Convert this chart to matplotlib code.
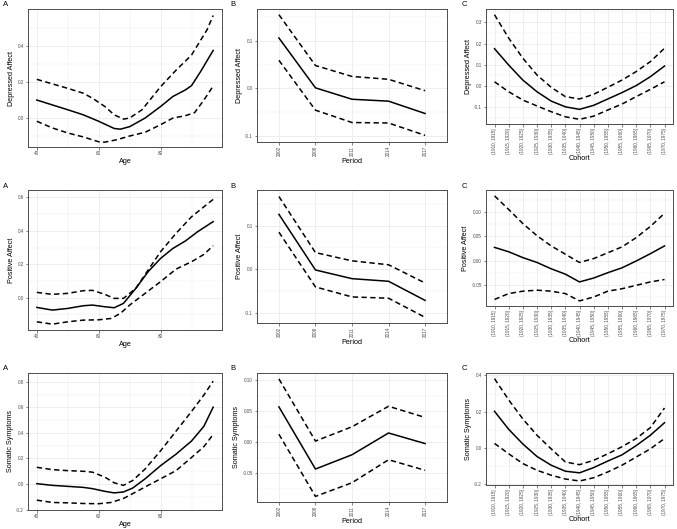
import matplotlib

matplotlib.use('Agg')
import matplotlib.pyplot as plt
from matplotlib.ticker import FixedLocator, FormatStrFormatter

plt.rcParams['font.family'] = ['Liberation Sans', 'DejaVu Sans']

# ---------------- data ----------------
periods = ['2002', '2008', '2011', '2014', '2017']
cohorts = ['(1910, 1915]', '(1915, 1920]', '(1920, 1925]', '(1925, 1930]',
           '(1930, 1935]', '(1935, 1940]', '(1940, 1945]', '(1945, 1950]',
           '(1950, 1955]', '(1955, 1960]', '(1960, 1965]', '(1965, 1970]',
           '(1970, 1975]']

# Depressed affect - age
da_age_est = [40, 50, 55, 60, 65, 67, 70, 75, 80, 84, 88, 90, 93, 97]
da_est = [0.10, 0.046, 0.018, -0.018, -0.058, -0.062, -0.048, 0.0, 0.064, 0.12, 0.156, 0.18, 0.26, 0.376]
da_age_hi = [40, 50, 55, 58, 62, 65, 68, 70, 74, 80, 85, 90, 95, 97]
da_hi = [0.215, 0.165, 0.138, 0.11, 0.064, 0.018, -0.006, 0.0, 0.046, 0.174, 0.266, 0.35, 0.49, 0.57]
da_age_lo = [40, 45, 50, 55, 60, 62, 66, 70, 75, 80, 84, 88, 91, 94, 97]
da_lo = [-0.018, -0.055, -0.083, -0.105, -0.132, -0.134, -0.12, -0.10, -0.079, -0.037, 0.0, 0.013, 0.03, 0.10, 0.178]

# Depressed affect - period
da_per_est = [0.106, 0.001, -0.023, -0.027, -0.053]
da_per_hi = [0.155, 0.048, 0.025, 0.019, -0.005]
da_per_lo = [0.059, -0.046, -0.072, -0.073, -0.099]

# Depressed affect - cohort
da_coh_est = [0.176, 0.099, 0.028, -0.027, -0.071, -0.098, -0.110, -0.091, -0.061, -0.031, 0.002, 0.044, 0.094]
da_coh_hi = [0.336, 0.226, 0.131, 0.052, -0.006, -0.05, -0.061, -0.039, -0.006, 0.028, 0.068, 0.115, 0.178]
da_coh_lo = [0.02, -0.027, -0.066, -0.094, -0.121, -0.145, -0.157, -0.142, -0.113, -0.085, -0.05, -0.016, 0.02]

# Positive affect - age
pa_age_est = [40, 45, 50, 55, 58, 62, 65, 68, 72, 76, 80, 84, 88, 92, 97]
pa_est = [-0.058, -0.074, -0.064, -0.048, -0.044, -0.054, -0.06, -0.034, 0.056, 0.156, 0.235, 0.295, 0.339, 0.395, 0.455]
pa_age_hi = [40, 45, 50, 55, 58, 62, 65, 68, 72, 76, 80, 85, 90, 97]
pa_hi = [0.032, 0.02, 0.026, 0.042, 0.044, 0.02, -0.004, -0.004, 0.056, 0.166, 0.275, 0.385, 0.484, 0.588]
pa_age_lo = [40, 45, 50, 55, 60, 64, 67, 70, 75, 80, 85, 90, 94, 97]
pa_lo = [-0.144, -0.158, -0.144, -0.134, -0.132, -0.124, -0.094, -0.044, 0.026, 0.096, 0.171, 0.215, 0.259, 0.311]

# Positive affect - period
pa_per_est = [0.126, -0.002, -0.022, -0.028, -0.072]
pa_per_hi = [0.167, 0.038, 0.019, 0.01, -0.032]
pa_per_lo = [0.085, -0.041, -0.064, -0.067, -0.111]

# Positive affect - cohort
pa_coh_est = [0.027, 0.018, 0.006, -0.004, -0.017, -0.028, -0.044, -0.036, -0.025, -0.015, -0.001, 0.014, 0.030]
pa_coh_hi = [0.133, 0.105, 0.076, 0.051, 0.030, 0.013, -0.004, 0.004, 0.016, 0.028, 0.047, 0.070, 0.097]
pa_coh_lo = [-0.080, -0.068, -0.063, -0.061, -0.063, -0.068, -0.083, -0.075, -0.063, -0.058, -0.051, -0.044, -0.039]

# Somatic symptoms - age
ss_age_est = [40, 45, 50, 55, 58, 62, 65, 68, 71, 75, 80, 85, 90, 94, 97]
ss_est = [0.003, -0.01, -0.018, -0.026, -0.036, -0.057, -0.069, -0.062, -0.031, 0.041, 0.144, 0.234, 0.337, 0.452, 0.602]
ss_age_hi = [40, 45, 50, 55, 58, 62, 65, 68, 71, 75, 80, 85, 90, 94, 97]
ss_hi = [0.131, 0.113, 0.105, 0.10, 0.093, 0.054, 0.01, -0.01, 0.028, 0.118, 0.26, 0.414, 0.568, 0.697, 0.805]
ss_age_lo = [40, 45, 50, 55, 60, 64, 68, 72, 76, 80, 85, 90, 94, 97]
ss_lo = [-0.126, -0.144, -0.147, -0.152, -0.154, -0.144, -0.113, -0.062, -0.01, 0.041, 0.105, 0.208, 0.293, 0.388]

# Somatic symptoms - period
ss_per_est = [0.057, -0.043, -0.02, 0.015, -0.002]
ss_per_hi = [0.102, 0.002, 0.025, 0.058, 0.040]
ss_per_lo = [0.013, -0.087, -0.065, -0.028, -0.045]

# Somatic symptoms - cohort
ss_coh_est = [0.202, 0.103, 0.022, -0.047, -0.095, -0.128, -0.137, -0.108, -0.072, -0.038, 0.013, 0.07, 0.139]
ss_coh_hi = [0.382, 0.265, 0.160, 0.070, -0.005, -0.077, -0.092, -0.068, -0.032, 0.007, 0.052, 0.112, 0.220]
ss_coh_lo = [0.025, -0.032, -0.086, -0.123, -0.15, -0.171, -0.182, -0.164, -0.132, -0.095, -0.05, -0.005, 0.052]

# ---------------- layout ----------------
W, H = 677, 529
fig = plt.figure(figsize=(W / 100, H / 100), dpi=100)

GRID = '#EBEBEB'
BORDER = '#4D4D4D'
TICKC = '#4D4D4D'
LW = 1.1
DASH = (0, (3.5, 2.2))


def add_ax(x0, x1, y0, y1):
    # pixel box (top-left origin) -> figure fraction
    return fig.add_axes([x0 / W, 1 - y1 / H, (x1 - x0) / W, (y1 - y0) / H])


def style(ax, ylabel, xlabel, yticks, yminor, fmt, xminor=None):
    ax.set_axisbelow(True)
    for s in ax.spines.values():
        s.set_color(BORDER)
        s.set_linewidth(0.7)
    ax.yaxis.set_major_locator(FixedLocator(yticks))
    ax.yaxis.set_minor_locator(FixedLocator(yminor))
    ax.yaxis.set_major_formatter(FormatStrFormatter(fmt))
    if xminor is not None:
        ax.xaxis.set_minor_locator(FixedLocator(xminor))
    ax.grid(True, which='major', color=GRID, lw=0.6)
    ax.grid(True, which='minor', color=GRID, lw=0.35)
    ax.tick_params(which='major', length=1.8, width=0.5, color=BORDER,
                   labelsize=3.3, labelcolor=TICKC, pad=1.2)
    ax.tick_params(which='minor', length=0)
    ax.set_ylabel(ylabel, fontsize=5.2, labelpad=1.5)
    ax.set_xlabel(xlabel, fontsize=5.2, labelpad=1)


def age_panel(ax, xe, ye, xh, yh, xl, yl, ylabel, yticks, yminor, ylim):
    ax.plot(xe, ye, color='black', lw=LW)
    ax.plot(xh, yh, color='black', lw=LW, ls=DASH)
    ax.plot(xl, yl, color='black', lw=LW, ls=DASH)
    ax.set_xlim(37.15, 99.85)
    ax.set_ylim(*ylim)
    ax.set_xticks([40, 60, 80])
    style(ax, ylabel, 'Age', yticks, yminor, '%.1f', xminor=[50, 70, 90])


def cat_panel(ax, labels, est, hi, lo, ylabel, xlabel, yticks, yminor, ylim, fmt):
    x = list(range(len(labels)))
    ax.plot(x, est, color='black', lw=LW)
    ax.plot(x, hi, color='black', lw=LW, ls=DASH)
    ax.plot(x, lo, color='black', lw=LW, ls=DASH)
    ax.set_xlim(-0.6, len(labels) - 0.4)
    ax.set_ylim(*ylim)
    ax.set_xticks(x)
    ax.set_xticklabels(labels, rotation=90)
    style(ax, ylabel, xlabel, yticks, yminor, fmt)


rows = [
    dict(name='Depressed Affect', top=9,
         a=(147, da_age_est, da_est, da_age_hi, da_hi, da_age_lo, da_lo,
            [0.0, 0.2, 0.4], [-0.1, 0.1, 0.3, 0.5], (-0.161, 0.606)),
         b=(142, da_per_est, da_per_hi, da_per_lo,
            [-0.1, 0.0, 0.1], [-0.05, 0.05, 0.15], (-0.113, 0.167), '%.1f'),
         c=(124, da_coh_est, da_coh_hi, da_coh_lo,
            [-0.1, 0.0, 0.1, 0.2, 0.3], [-0.15, -0.05, 0.05, 0.15, 0.25, 0.35],
            (-0.179, 0.363), '%.1f')),
    dict(name='Positive Affect', top=190,
         a=(330, pa_age_est, pa_est, pa_age_hi, pa_hi, pa_age_lo, pa_lo,
            [0.0, 0.2, 0.4, 0.6], [-0.1, 0.1, 0.3, 0.5], (-0.193, 0.644)),
         b=(323, pa_per_est, pa_per_hi, pa_per_lo,
            [-0.1, 0.0, 0.1], [-0.05, 0.05, 0.15], (-0.124, 0.182), '%.1f'),
         c=(306, pa_coh_est, pa_coh_hi, pa_coh_lo,
            [-0.05, 0.0, 0.05, 0.10], [-0.075, -0.025, 0.025, 0.075, 0.125],
            (-0.0935, 0.145), '%.2f')),
    dict(name='Somatic Symptoms', top=373,
         a=(510, ss_age_est, ss_est, ss_age_hi, ss_hi, ss_age_lo, ss_lo,
            [-0.2, 0.0, 0.2, 0.4, 0.6, 0.8], [-0.1, 0.1, 0.3, 0.5, 0.7], (-0.203, 0.869)),
         b=(502, ss_per_est, ss_per_hi, ss_per_lo,
            [-0.05, 0.0, 0.05, 0.10], [-0.075, -0.025, 0.025, 0.075],
            (-0.096, 0.1115), '%.2f'),
         c=(485, ss_coh_est, ss_coh_hi, ss_coh_lo,
            [-0.2, 0.0, 0.2, 0.4], [-0.1, 0.1, 0.3], (-0.204, 0.413), '%.1f')),
]

for r in rows:
    top = r['top']
    a = r['a']
    ax = add_ax(28, 222, top, a[0])
    age_panel(ax, *a[1:7], r['name'], a[7], a[8], a[9])
    fig.text(3 / W, 1 - (top - 4) / H, 'A', fontsize=5.5, va='center', ha='left')

    b = r['b']
    ax = add_ax(257, 447, top, b[0])
    cat_panel(ax, periods, b[1], b[2], b[3], r['name'], 'Period', b[4], b[5], b[6], b[7])
    fig.text(230 / W, 1 - (top - 4) / H, 'B', fontsize=5.5, va='center', ha='left')

    c = r['c']
    ax = add_ax(486, 673, top, c[0])
    cat_panel(ax, cohorts, c[1], c[2], c[3], r['name'], 'Cohort', c[4], c[5], c[6], c[7])
    fig.text(462 / W, 1 - (top - 4) / H, 'C', fontsize=5.5, va='center', ha='left')

fig.savefig('out.png', dpi=100)
